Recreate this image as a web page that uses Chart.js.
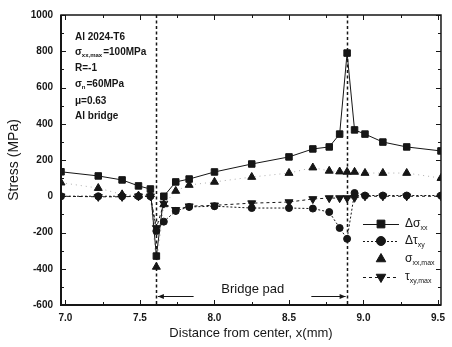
<!DOCTYPE html>
<html>
<head>
<meta charset="utf-8">
<title>Stress vs distance</title>
<script src="https://cdn.jsdelivr.net/npm/chart.js@4.4.0/dist/chart.umd.min.js"></script>
<style>
  html, body { margin: 0; padding: 0; background: #fff; }
  #wrap { width: 452px; height: 347px; }
</style>
</head>
<body>
<div id="wrap"><canvas id="chart"></canvas></div>
<script>
// Values (x in mm, stress in MPa)
const xPositions = [6.97, 7.22, 7.38, 7.49, 7.57, 7.61, 7.66, 7.74, 7.83, 8.0, 8.25, 8.5, 8.66, 8.77, 8.84, 8.89, 8.94, 9.01, 9.13, 9.29, 9.52];
const dSigmaXX   = [135, 112, 90, 57, 40, -330, 0, 79, 95, 134, 178, 217, 261, 272, 343, 790, 366, 343, 299, 272, 250];
const dTauXY     = [0, 0, 0, 0, 0, -192, -140, -81, -59, -55, -65, -65, -68, -87, -175, -235, 18, 4, 4, 4, 4];
const sigmaXXMax = [75, 45, 10, 3, 10, -390, -45, 29, 62, 79, 106, 128, 158, 140, 136, 134, 134, 128, 128, 128, 100];
const tauXYMax   = [0, -3, -3, 0, 0, -175, -40, -75, -55, -50, -38, -32, -15, -10, -10, -10, -8, 0, 0, 0, 0];

const xTickLabels = [7.0, 7.5, 8.0, 8.5, 9.0, 9.5];
const xMinorTicks = [7.25, 7.75, 8.25, 8.75, 9.25];
const yTickLabels = [-600, -400, -200, 0, 200, 400, 600, 800, 1000];
const yMinorTicks = [-500, -300, -100, 100, 300, 500, 700, 900];

// bridge pad edges and label
const padEdges = [7.61, 8.89];
const padArrowEnds = [7.86, 8.65];
const padLabelX = 8.257;
const padArrowY = -550;
const padLabelY = -512;

const FONT = '"Liberation Sans", Arial, Helvetica, sans-serif';
const INK = '#161616';

const pts = arr => arr.map((v, i) => ({ x: xPositions[i], y: v }));

// text with subscripts: parts = [[text, isSub], ...]
function drawRich(ctx, parts, x, y, size, weight) {
    let cx = x;
    parts.forEach(([t, sub]) => {
        const s = sub ? Math.round(size * 0.62) : size;
        ctx.font = `${weight} ${s}px ${FONT}`;
        ctx.fillText(t, cx, sub ? y + size * 0.38 : y);
        cx += ctx.measureText(t).width + (sub ? 1 : 0);
    });
}

const legendItems = [
    { parts: [['Δσ', false], ['xx', true]], style: 'rect', radius: 5.5, rotation: 0, dash: [], line: true },
    { parts: [['Δτ', false], ['xy', true]], style: 'circle', radius: 4.5, rotation: 0, dash: [2, 2], line: true },
    { parts: [['σ', false], ['xx,max', true]], style: 'triangle', radius: 5.5, rotation: 0, dash: [], line: false },
    { parts: [['τ', false], ['xy,max', true]], style: 'triangle', radius: 5.5, rotation: 180, dash: [3, 3], line: true }
];

const framePlugin = {
    id: 'frame',
    beforeDatasetsDraw(chart) {
        const { ctx, chartArea: a, scales: { x } } = chart;
        ctx.save();
        ctx.strokeStyle = INK;
        ctx.lineWidth = 1.5;
        ctx.setLineDash([3, 2.5]);
        padEdges.forEach(v => {
            const px = Math.round(x.getPixelForValue(v)) + 0.5;
            ctx.beginPath();
            ctx.moveTo(px, a.top);
            ctx.lineTo(px, a.bottom);
            ctx.stroke();
        });
        ctx.restore();
    },
    afterDatasetsDraw(chart) {
        const { ctx, chartArea: a, scales: { x, y } } = chart;
        ctx.save();
        ctx.strokeStyle = INK;
        ctx.fillStyle = INK;

        // frame
        ctx.lineWidth = 1.5;
        ctx.strokeRect(a.left, a.top, a.right - a.left, a.bottom - a.top);
        ctx.lineWidth = 2;
        ctx.beginPath();
        ctx.moveTo(a.left, a.top);
        ctx.lineTo(a.left, a.bottom);
        ctx.lineTo(a.right, a.bottom);
        ctx.stroke();

        // inward ticks on all four sides
        ctx.lineWidth = 1;
        const tickX = (v, len) => {
            const px = Math.round(x.getPixelForValue(v)) + 0.5;
            ctx.beginPath();
            ctx.moveTo(px, a.bottom); ctx.lineTo(px, a.bottom - len);
            ctx.moveTo(px, a.top); ctx.lineTo(px, a.top + len);
            ctx.stroke();
        };
        const tickY = (v, len) => {
            const py = Math.round(y.getPixelForValue(v)) + 0.5;
            ctx.beginPath();
            ctx.moveTo(a.left, py); ctx.lineTo(a.left + len, py);
            ctx.moveTo(a.right, py); ctx.lineTo(a.right - len, py);
            ctx.stroke();
        };
        xTickLabels.forEach(v => tickX(v, 5));
        xMinorTicks.forEach(v => tickX(v, 3));
        yTickLabels.forEach(v => tickY(v, 5));
        yMinorTicks.forEach(v => tickY(v, 3));

        // bridge pad arrows
        const ay = Math.round(y.getPixelForValue(padArrowY)) + 0.5;
        const arrow = (from, to) => {
            const x0 = x.getPixelForValue(from), x1 = x.getPixelForValue(to);
            const dir = Math.sign(x1 - x0);
            ctx.beginPath();
            ctx.moveTo(x0, ay); ctx.lineTo(x1, ay);
            ctx.stroke();
            ctx.beginPath();
            ctx.moveTo(x1, ay);
            ctx.lineTo(x1 - dir * 6, ay - 2.5);
            ctx.lineTo(x1 - dir * 6, ay + 2.5);
            ctx.closePath();
            ctx.fill();
        };
        arrow(padArrowEnds[0], padEdges[0] + 0.01);
        arrow(padArrowEnds[1], padEdges[1] - 0.01);
        ctx.textBaseline = 'middle';
        ctx.textAlign = 'center';
        ctx.font = `13px ${FONT}`;
        ctx.fillText('Bridge pad', x.getPixelForValue(padLabelX), y.getPixelForValue(padLabelY));

        // test conditions
        ctx.textAlign = 'left';
        const tx = a.left + 14;
        drawRich(ctx, [['Al 2024-T6', false]], tx, 37, 10, 'bold');
        drawRich(ctx, [['σ', false], ['xx,max', true], ['=100MPa', false]], tx, 52, 10, 'bold');
        drawRich(ctx, [['R=-1', false]], tx, 68, 10, 'bold');
        drawRich(ctx, [['σ', false], ['n', true], ['=60MPa', false]], tx, 84, 10, 'bold');
        drawRich(ctx, [['μ=0.63', false]], tx, 101, 10, 'bold');
        drawRich(ctx, [['Al bridge', false]], tx, 116, 10, 'bold');

        // legend
        const lx0 = a.right - 78, lxm = a.right - 60, lx1 = a.right - 42, ltx = a.right - 36;
        const rows = [224, 241, 259, 277];
        legendItems.forEach((it, i) => {
            const ly = rows[i];
            if (it.line) {
                ctx.lineWidth = 1;
                ctx.setLineDash(it.dash);
                ctx.beginPath();
                ctx.moveTo(lx0, ly + 0.5); ctx.lineTo(lx1, ly + 0.5);
                ctx.stroke();
                ctx.setLineDash([]);
            }
            Chart.helpers.drawPoint(ctx, { pointStyle: it.style, radius: it.radius, rotation: it.rotation, borderWidth: 1 }, lxm, ly);
            drawRich(ctx, it.parts, ltx, ly, 12, 'normal');
        });
        ctx.restore();
    }
};

const tickFont = { family: FONT, size: 10, weight: 'bold' };

new Chart(document.getElementById('chart'), {
    type: 'line',
    data: {
        datasets: [
            {
                label: 'Δσxx',
                data: pts(dSigmaXX),
                borderColor: INK, backgroundColor: INK,
                borderWidth: 1, pointStyle: 'rect', pointRadius: 4.6,
                pointBorderWidth: 1
            },
            {
                label: 'Δτxy',
                data: pts(dTauXY),
                borderColor: INK, backgroundColor: INK,
                borderWidth: 1, borderDash: [2, 2], pointStyle: 'circle', pointRadius: 3.5,
                pointBorderWidth: 1
            },
            {
                label: 'σxx,max',
                data: pts(sigmaXXMax),
                borderColor: '#9a9a9a', backgroundColor: INK, pointBorderColor: INK,
                borderWidth: 0.8, borderDash: [1, 4], pointStyle: 'triangle', pointRadius: 4.6,
                pointBorderWidth: 1
            },
            {
                label: 'τxy,max',
                data: pts(tauXYMax),
                borderColor: INK, backgroundColor: INK,
                borderWidth: 1, borderDash: [3, 3], pointStyle: 'triangle', rotation: 180, pointRadius: 4.6,
                pointBorderWidth: 1
            }
        ]
    },
    options: {
        responsive: true,
        maintainAspectRatio: false,
        animation: false,
        layout: { padding: { left: 0, right: 2, top: 15, bottom: 0 } },
        plugins: {
            legend: { display: false },
            tooltip: { enabled: false }
        },
        scales: {
            x: {
                type: 'linear',
                min: 6.97,
                max: 9.52,
                afterBuildTicks: s => { s.ticks = xTickLabels.map(v => ({ value: v })); },
                afterFit: s => { s.height = 42; },
                grid: { display: false, drawTicks: false },
                border: { display: false },
                ticks: {
                    padding: 7, color: INK, font: tickFont, maxRotation: 0, autoSkip: false,
                    callback: v => Number(v).toFixed(1)
                },
                title: {
                    display: true, text: 'Distance from center, x(mm)', color: INK,
                    font: { family: FONT, size: 13 }, padding: { top: 0, bottom: 6 }
                }
            },
            y: {
                type: 'linear',
                min: -600,
                max: 1000,
                afterBuildTicks: s => { s.ticks = yTickLabels.map(v => ({ value: v })); },
                afterFit: s => { s.width = 61; },
                grid: { display: false, drawTicks: false },
                border: { display: false },
                ticks: { padding: 8, color: INK, font: tickFont, autoSkip: false, callback: v => String(v) },
                title: {
                    display: true, text: 'Stress (MPa)', color: INK,
                    font: { family: FONT, size: 14 }, padding: { top: 6, bottom: 0 }
                }
            }
        }
    },
    plugins: [framePlugin]
});
</script>
</body>
</html>
